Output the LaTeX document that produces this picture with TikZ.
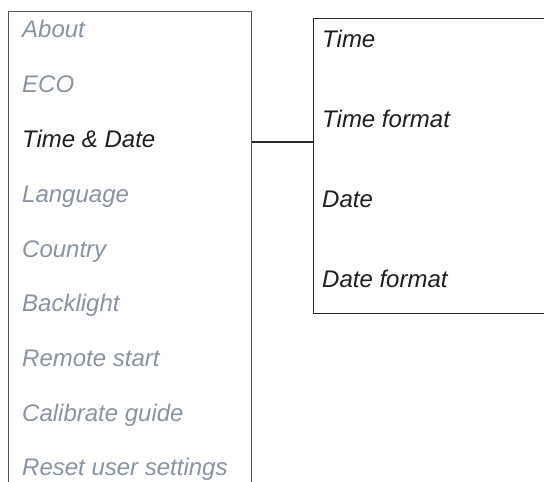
\documentclass[tikz,border=0pt]{standalone}
\usepackage{fontspec}
\setmainfont{Liberation Sans}
\definecolor{greytxt}{HTML}{8A93A0}
\definecolor{darktxt}{HTML}{1E1E1E}
\definecolor{frameA}{HTML}{555555}
\definecolor{frameB}{HTML}{2A2A2A}
\tikzset{
  item/.style={anchor=base west, inner sep=0pt, font=\fontsize{24}{28}\selectfont\itshape},
  off/.style={item, text=greytxt},
  on/.style={item, text=darktxt},
  panel/.style={draw=#1, line width=1.4pt, inner sep=0pt},
  link/.style={draw=frameB, line width=1.1pt}
}
\begin{document}
\begin{tikzpicture}[x=1pt,y=-1pt]
\useasboundingbox (0,0) rectangle (544,482);
\clip (0,0) rectangle (544,482);
\fill[white] (0,0) rectangle (544,482);
\node[panel=frameA, minimum width=243pt, minimum height=500pt, anchor=north west] (menu) at (8,11) {};
\node[panel=frameB, minimum width=260pt, minimum height=295pt, anchor=north west] (sub) at (313,18) {};
\node[off] (about) at (22,37) {About};
\node[off] (eco) at (22,92) {ECO};
\node[on] (timedate) at (22,147) {Time \& Date};
\node[off] (lang) at (22,202) {Language};
\node[off] (country) at (22,257) {Country};
\node[off] (back) at (22,311) {Backlight};
\node[off] (remote) at (22,366) {Remote start};
\node[off] (calib) at (22,421) {Calibrate guide};
\node[off] (reset) at (22,475) {Reset user settings};
\node[on] (time) at (322,47) {Time};
\node[on] (timef) at (322,127) {Time format};
\node[on] (date) at (322,207) {Date};
\node[on] (datef) at (322,287) {Date format};
\draw[link] (menu.east |- 0,142) -- (sub.west |- 0,142);
\end{tikzpicture}
\end{document}
